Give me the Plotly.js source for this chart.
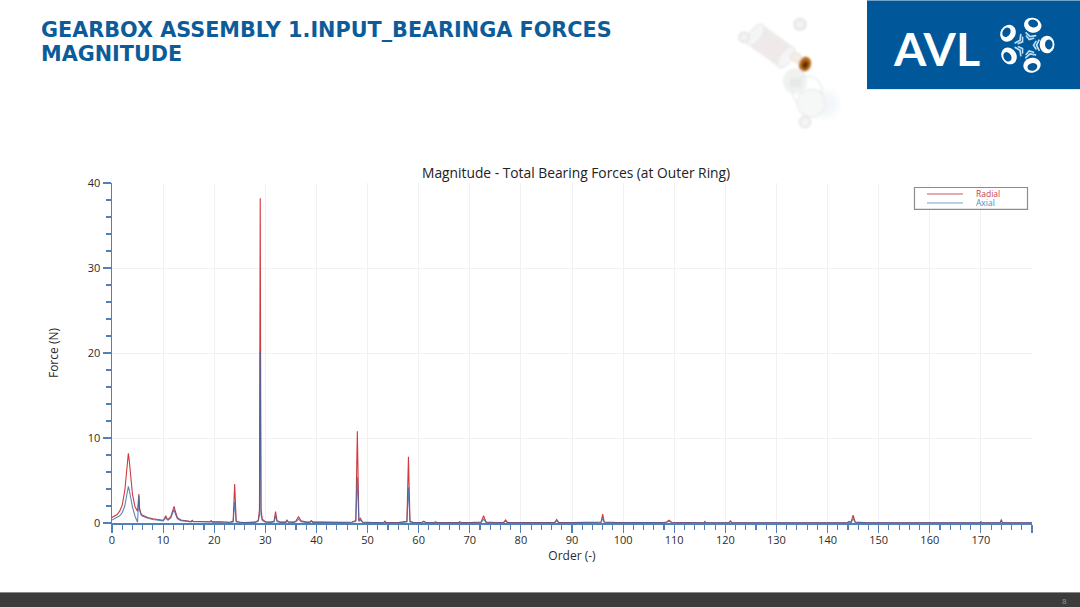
<!DOCTYPE html>
<html><head><meta charset="utf-8">
<script src="https://cdn.plot.ly/plotly-3.0.1.min.js"></script>
<style>html,body{margin:0;padding:0;background:#fff;overflow:hidden}#c{width:1080px;height:608px}</style>
</head><body><div id="c"></div>
<script>
const orders = [
0,.5,1,1.5,2,2.5,2.8,3,3.2,3.4,
3.7,4,4.5,5,5.1,5.25,5.4,5.7,6,7,
8,9,10,10.3,10.5,10.8,11,11.5,11.9,12.15,
12.4,12.8,13.5,15,15.5,15.7,15.9,17,18,19,
19.2,19.4,19.6,21,22,23,23.7,24,24.3,25,
26,27,28,28.6,28.85,29,29.15,29.4,30,31,
31.7,32,32.3,33,34,34.2,34.5,35.5,36,36.5,
37,38,38.7,39,39.3,41,43,45,47,47.7,
48,48.3,48.6,49,51,53,53.2,53.4,53.6,56,
57.7,58,58.3,59,60.6,61,61.4,63,63.3,63.6,
65,67,67.8,68,68.3,70,72.2,72.7,73.2,75,
76.6,77,77.4,80,83,85,86.6,87,87.4,90,
93,95.7,96,96.3,99,102,105,108,108.5,109,
109.5,113,115.8,116,116.2,119,120.7,121,121.3,125,
130,135,140,143.9,144.2,144.6,145,145.4,148,155,
160,165,169.8,170,170.3,173.8,174,174.2,178,180];
const radial = [
.65,.8,1.0,1.4,2.1,3.8,5.9,7.4,8.2,7.2,
5,3.4,1.9,1.4,2,3.4,1.7,1.05,.9,.65,
.5,.38,.32,.55,.85,.48,.42,.75,1.5,1.95,
1.35,.62,.35,.2,.18,.32,.2,.18,.15,.14,
.14,.28,.13,.15,.1,.08,.2,4.6,.2,.08,
.06,.05,.1,.3,1.5,38.2,1.6,.45,.15,.1,
.2,1.35,.25,.1,.1,.38,.12,.1,.25,.72,
.25,.1,.1,.3,.1,.12,.08,.07,.12,.3,
10.8,.3,.55,.12,.06,.08,.08,.22,.07,.05,
.2,7.8,.2,.06,.06,.22,.06,.05,.14,.05,
.05,.06,.05,.16,.05,.05,.1,.85,.1,.05,
.05,.36,.05,.04,.05,.05,.05,.42,.05,.04,
.04,.12,1.05,.12,.04,.03,.04,.05,.12,.32,
.08,.03,.03,.18,.03,.03,.03,.25,.04,.03,
.02,.02,.02,.05,.2,.1,.92,.12,.03,.02,
.02,.02,.02,.15,.02,.05,.42,.05,.02,.02];
const axial = [
.35,.5,.65,.85,1.2,2.0,3.0,3.8,4.3,3.8,
2.8,1.9,.8,.08,1.4,3.2,1.5,.95,.8,.55,
.42,.3,.25,.45,.65,.38,.34,.6,1.2,1.6,
1.05,.5,.28,.16,.14,.24,.15,.14,.12,.11,
.11,.22,.1,.12,.08,.06,.12,2.5,.12,.06,
.04,.04,.07,.2,.9,20.2,1,.3,.1,.07,
.12,.85,.15,.07,.07,.26,.08,.07,.16,.45,
.16,.07,.07,.2,.07,.08,.05,.05,.08,.18,
5.4,.18,.35,.08,.04,.05,.05,.14,.05,.03,
.12,4.2,.12,.04,.04,.14,.04,.03,.09,.03,
.03,.04,.03,.1,.03,.03,.06,.45,.06,.03,
.03,.22,.03,.03,.03,.03,.03,.25,.03,.03,
.03,.08,.55,.08,.03,.02,.03,.03,.08,.2,
.05,.02,.02,.12,.02,.02,.02,.16,.02,.02,
.01,.01,.01,.03,.12,.06,.5,.08,.02,.01,
.01,.01,.01,.1,.01,.03,.28,.03,.01,.01];
const xTickVals = [0,10,20,30,40,50,60,70,80,90,100,110,120,130,140,150,160,170,180];
const xTickText = ['0','10','20','30','40','50','60','70','80','90','100','110','120','130','140','150','160','170',''];
const seriesNames = ['Radial','Axial'];

const W=1080,H=608,L=112,R=1032,T=183,B=523.5;
const px=x=>(x-L)/(R-L), py=y=>(B-y)/(B-T);
const AX='#4f80b8', INK='#2b2b2b', FONT='"Open Sans","Noto Sans",sans-serif';
const C0=[1027.5,45];
const ring=(cx,cy)=>{const a=Math.atan2(cy-C0[1],cx-C0[0])*180/Math.PI;
 return `<g transform="translate(${cx} ${cy}) rotate(${a})"><ellipse rx="7.4" ry="8.8" fill="#fff"/><ellipse cx="1.8" rx="3.8" ry="5" fill="#00589b"/></g>`;};
const chev=(rot)=>`<g transform="translate(${C0[0]} ${C0[1]}) rotate(${rot})" fill="none" stroke="#bfe0f4" stroke-linecap="round"><path d="M8.5 -3.8 L6 0 L8.5 3.8" stroke-width="1.6"/><path d="M11.5 -5 L9 0 L11.5 5" stroke-width="1.7"/></g>`;
const angs=[-73,0,74,146,-146];
const svg=`<svg xmlns="http://www.w3.org/2000/svg" width="1080" height="608" viewBox="0 0 1080 608">
<defs><filter id="b"><feGaussianBlur stdDeviation="0.8"/></filter><filter id="b2"><feGaussianBlur stdDeviation="5"/></filter></defs>
<rect x="867" y="0" width="213" height="89" fill="#00589b"/>
${angs.map(chev).join('')}
${ring(1032.7,25)}${ring(1047,44.3)}${ring(1032,65)}${ring(1009,55.7)}${ring(1008,33)}
<circle cx="825" cy="104" r="13" fill="#f1f5f8" filter="url(#b2)"/>
<g filter="url(#b)">
<g transform="rotate(36 772 46)"><rect x="752" y="34" width="38" height="25" rx="5" fill="#efe9ea"/><ellipse cx="790" cy="46.5" rx="6" ry="12.5" fill="#f5f5f5" stroke="#e6e6e6"/><ellipse cx="752" cy="46.5" rx="6" ry="12.5" fill="#f5f5f5" stroke="#e6e6e6"/></g>
<circle cx="800" cy="24" r="5.5" fill="#f2f3f2" stroke="#dedfde" stroke-width="1.6"/>
<circle cx="744" cy="37" r="5" fill="#f2f3f2" stroke="#dfdfdf" stroke-width="1.4"/>
<ellipse cx="797" cy="58" rx="7" ry="4.5" transform="rotate(35 797 58)" fill="#f6ece4" stroke="#e8e0da"/>
<ellipse cx="805" cy="64" rx="6" ry="7.5" transform="rotate(20 805 64)" fill="#b9690f"/>
<ellipse cx="805.5" cy="64.5" rx="3" ry="3.8" transform="rotate(20 805 64)" fill="#5a3208"/>
<ellipse cx="795" cy="81" rx="12" ry="13" fill="#eff2f0"/>
<rect x="790" y="78" width="11" height="9" rx="2" fill="#e6e7e6"/>
<circle cx="807" cy="91" r="15" fill="none" stroke="#e9eceb" stroke-width="1.3"/>
<circle cx="811" cy="103" r="14" fill="#f6f8f7" stroke="#eaedeb" stroke-width="1.2"/>
<circle cx="805" cy="122" r="5.5" fill="#f3f4f3" stroke="#e2e3e2" stroke-width="1.5"/>
</g>
<rect x="0" y="593" width="1080" height="15" fill="#3c3c3c"/>
</svg>`;

const RED='#cf3a40', BLUE='rgba(60,105,165,0.82)';
const data=[
 {x:orders,y:radial,type:'scatter',mode:'lines',name:seriesNames[0],showlegend:false,line:{color:RED,width:1.1}},
 {x:orders,y:axial,type:'scatter',mode:'lines',name:seriesNames[1],showlegend:false,line:{color:BLUE,width:1.1}}
];
const axisBase={showline:true,linecolor:AX,linewidth:1.5,ticks:'outside',tickcolor:AX,tickwidth:1.2,ticklen:8,
 gridcolor:'#eff1f4',gridwidth:1,zeroline:false,tickfont:{family:FONT,size:11,color:INK},automargin:false};
const ann=(text,x,y,font,anchor)=>({text,xref:'paper',yref:'paper',x:px(x),y:py(y),xanchor:anchor||'left',yanchor:'middle',align:'left',showarrow:false,borderpad:0,font});
const TF={family:'"DejaVu Sans",Verdana,sans-serif',size:20.75,color:'#0c5c99'};
const layout={
 width:W,height:H,paper_bgcolor:'#fff',plot_bgcolor:'rgba(0,0,0,0)',
 margin:{l:L,r:W-R,t:T,b:H-B,pad:0},
 showlegend:false,
 xaxis:Object.assign({},axisBase,{range:[0,180],tickmode:'array',tickvals:xTickVals,ticktext:xTickText,ticklabelstandoff:-2,
  minor:{dtick:2,tick0:0,ticks:'outside',ticklen:5,tickcolor:AX,tickwidth:1.1,showgrid:false},
  title:{text:'Order (-)',font:{family:FONT,size:12,color:INK},standoff:0}}),
 yaxis:Object.assign({},axisBase,{range:[0,40],dtick:10,tick0:0,
  minor:{dtick:2,tick0:0,ticks:'outside',ticklen:5,tickcolor:AX,tickwidth:1.1,showgrid:false},
  title:{text:'Force (N)',font:{family:FONT,size:12,color:INK},standoff:26}}),
 images:[{source:'data:image/svg+xml;charset=utf-8,'+encodeURIComponent(svg),xref:'paper',yref:'paper',
  x:px(0),y:py(0),sizex:W/(R-L),sizey:H/(B-T),xanchor:'left',yanchor:'top',sizing:'stretch',layer:'below'}],
 shapes:[
  {type:'rect',xref:'paper',yref:'paper',x0:px(914.5),x1:px(1027.5),y0:py(187.5),y1:py(209.5),fillcolor:'#fff',line:{color:'#8c8c8c',width:1.2}},
  {type:'line',xref:'paper',yref:'paper',x0:px(927),x1:px(963),y0:py(194),y1:py(194),line:{color:'#d0555c',width:1}},
  {type:'line',xref:'paper',yref:'paper',x0:px(927),x1:px(963),y0:py(203),y1:py(203),line:{color:'#6ea6c6',width:1}}
 ],
 annotations:[
  ann('<b>GEARBOX ASSEMBLY 1.INPUT_BEARINGA FORCES</b>',40,29.5,TF),
  ann('<b>MAGNITUDE</b>',40,53.5,TF),
  ann('Magnitude - Total Bearing Forces (at Outer Ring)',576,172,{family:FONT,size:13.8,color:'#222'},'center'),
  ann(seriesNames[0],975,194,{family:FONT,size:8.5,color:'#c8404a'}),
  ann(seriesNames[1],975,203,{family:FONT,size:8.5,color:'#4a8fc0'}),
  ann('<b>AVL</b>',936,48,{family:'Lato,"Open Sans",sans-serif',size:46.5,color:'#fff'},'center'),
  ann('8',1064,601,{family:FONT,size:8,color:'#9a9a9a'},'center')
 ]
};
Plotly.newPlot('c',data,layout,{staticPlot:true,displayModeBar:false});
</script></body></html>
